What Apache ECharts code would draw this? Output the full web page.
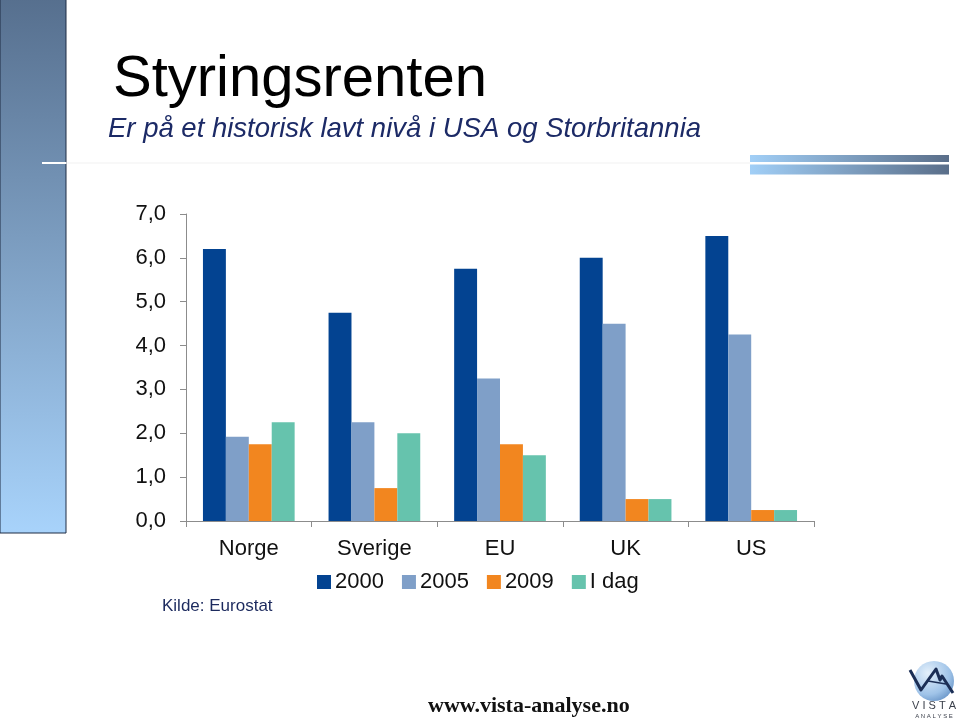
<!DOCTYPE html>
<html>
<head>
<meta charset="utf-8">
<script src="https://cdn.jsdelivr.net/npm/echarts@6/dist/echarts.min.js"></script>
<style>
html,body{margin:0;padding:0;background:#fff;}
#chart{width:960px;height:720px;}
</style>
</head>
<body>
<div id="chart"></div>
<script>
const categories = ['Norge', 'Sverige', 'EU', 'UK', 'US'];
const seriesNames = ['2000', '2005', '2009', 'I dag'];
const values2000 = [6.2, 4.75, 5.75, 6.0, 6.5];
const values2005 = [1.92, 2.25, 3.25, 4.5, 4.25];
const values2009 = [1.75, 0.75, 1.75, 0.5, 0.25];
const valuesIdag = [2.25, 2.0, 1.5, 0.5, 0.25];
const yTicks = [0, 1, 2, 3, 4, 5, 6, 7];

const colors = ['#034391', '#7f9fc8', '#f2861f', '#66c3ad'];
const allValues = [values2000, values2005, values2009, valuesIdag];

const chart = echarts.init(document.getElementById('chart'));
const font = 'Liberation Sans, Arial, sans-serif';

const option = {
  animation: false,
  grid: { left: 186, right: 146, top: 214, bottom: 199 },
  legend: {
    data: seriesNames,
    left: 312,
    top: 566,
    itemWidth: 14,
    itemHeight: 14,
    itemGap: 18,
    icon: 'rect',
    textStyle: { fontFamily: font, fontSize: 22, color: '#111', padding: [0, 0, 0, -1] }
  },
  xAxis: {
    type: 'category',
    data: categories,
    axisLine: { lineStyle: { color: '#8c8c8c', width: 1 } },
    axisTick: { show: true, length: 6, lineStyle: { color: '#8c8c8c' } },
    axisLabel: { fontFamily: font, fontSize: 22, color: '#111', margin: 17 }
  },
  yAxis: {
    type: 'value',
    min: yTicks[0],
    max: yTicks[yTicks.length - 1],
    interval: 1,
    splitLine: { show: false },
    axisLine: { show: true, lineStyle: { color: '#8c8c8c', width: 1 } },
    axisTick: { show: true, length: 6, lineStyle: { color: '#8c8c8c' } },
    axisLabel: {
      fontFamily: font, fontSize: 22, color: '#111', margin: 20,
      formatter: v => v.toFixed(1).replace('.', ',')
    }
  },
  series: seriesNames.map((name, i) => ({
    name: name,
    type: 'bar',
    data: allValues[i],
    barGap: '0%',
    barCategoryGap: '27%',
    itemStyle: { color: colors[i] }
  })),
  graphic: [
    {
      type: 'rect', z: 0,
      shape: { x: 0, y: -2, width: 66, height: 535 },
      style: {
        fill: { type: 'linear', x: 0, y: 0, x2: 0, y2: 1,
          colorStops: [{ offset: 0, color: '#566f8e' }, { offset: 1, color: '#a8d3fb' }] },
        stroke: '#1e2d44', lineWidth: 1
      }
    },
    {
      type: 'rect', z: 1,
      shape: { x: 66, y: 162.5, width: 684, height: 1 },
      style: { fill: '#f2f2f2' }
    },
    {
      type: 'rect', z: 2,
      shape: { x: 42, y: 162, width: 24, height: 2 },
      style: { fill: '#ffffff' }
    },
    {
      type: 'rect', z: 1,
      shape: { x: 750, y: 155, width: 199, height: 7 },
      style: {
        fill: { type: 'linear', x: 0, y: 0, x2: 1, y2: 0,
          colorStops: [{ offset: 0, color: '#a1cff7' }, { offset: 1, color: '#5a6e89' }] }
      }
    },
    {
      type: 'rect', z: 1,
      shape: { x: 750, y: 164.5, width: 199, height: 10 },
      style: {
        fill: { type: 'linear', x: 0, y: 0, x2: 1, y2: 0,
          colorStops: [{ offset: 0, color: '#a1cff7' }, { offset: 1, color: '#5a6e89' }] }
      }
    },
    {
      type: 'text', z: 5, x: 113, y: 51,
      style: { text: 'Styringsrenten', fontFamily: font, fontSize: 58, fill: '#000', verticalAlign: 'top' }
    },
    {
      type: 'text', z: 5, x: 108, y: 116,
      style: { text: 'Er på et historisk lavt nivå i USA og Storbritannia', fontFamily: font, fontStyle: 'italic', fontSize: 27.5, fill: '#1c2a66', verticalAlign: 'top' }
    },
    {
      type: 'text', z: 5, x: 162, y: 598,
      style: { text: 'Kilde: Eurostat', fontFamily: font, fontSize: 17, fill: '#1c2a5e', verticalAlign: 'top' }
    },
    {
      type: 'text', z: 5, x: 428, y: 695,
      style: { text: 'www.vista-analyse.no', fontFamily: 'Liberation Serif, Times New Roman, serif', fontWeight: 'bold', fontSize: 22, fill: '#111', verticalAlign: 'top' }
    },
    {
      type: 'circle', z: 3,
      shape: { cx: 934, cy: 681, r: 20 },
      style: {
        fill: { type: 'radial', x: 0.35, y: 0.3, r: 0.9,
          colorStops: [{ offset: 0, color: '#e4f0fb' }, { offset: 0.6, color: '#9fc3e8' }, { offset: 1, color: '#4f7fb8' }] }
      }
    },
    {
      type: 'polyline', z: 4,
      shape: { points: [[910, 670], [921, 690], [936, 669], [940, 680], [942, 676], [953, 693]] },
      style: { stroke: '#1b2e55', lineWidth: 3, fill: null, lineJoin: 'round' }
    },
    {
      type: 'polyline', z: 4,
      shape: { points: [[928, 681], [946, 684]] },
      style: { stroke: '#1b2e55', lineWidth: 1.5, fill: null }
    },
    {
      type: 'text', z: 5, x: 934, y: 700,
      style: { text: 'V I S T A', fontFamily: font, fontSize: 11, fill: '#3a3f4a', textAlign: 'center', verticalAlign: 'top' }
    },
    {
      type: 'text', z: 5, x: 934, y: 713,
      style: { text: 'A N A L Y S E', fontFamily: font, fontSize: 6, fill: '#3a3f4a', textAlign: 'center', verticalAlign: 'top' }
    }
  ]
};
chart.setOption(option);
</script>
</body>
</html>
